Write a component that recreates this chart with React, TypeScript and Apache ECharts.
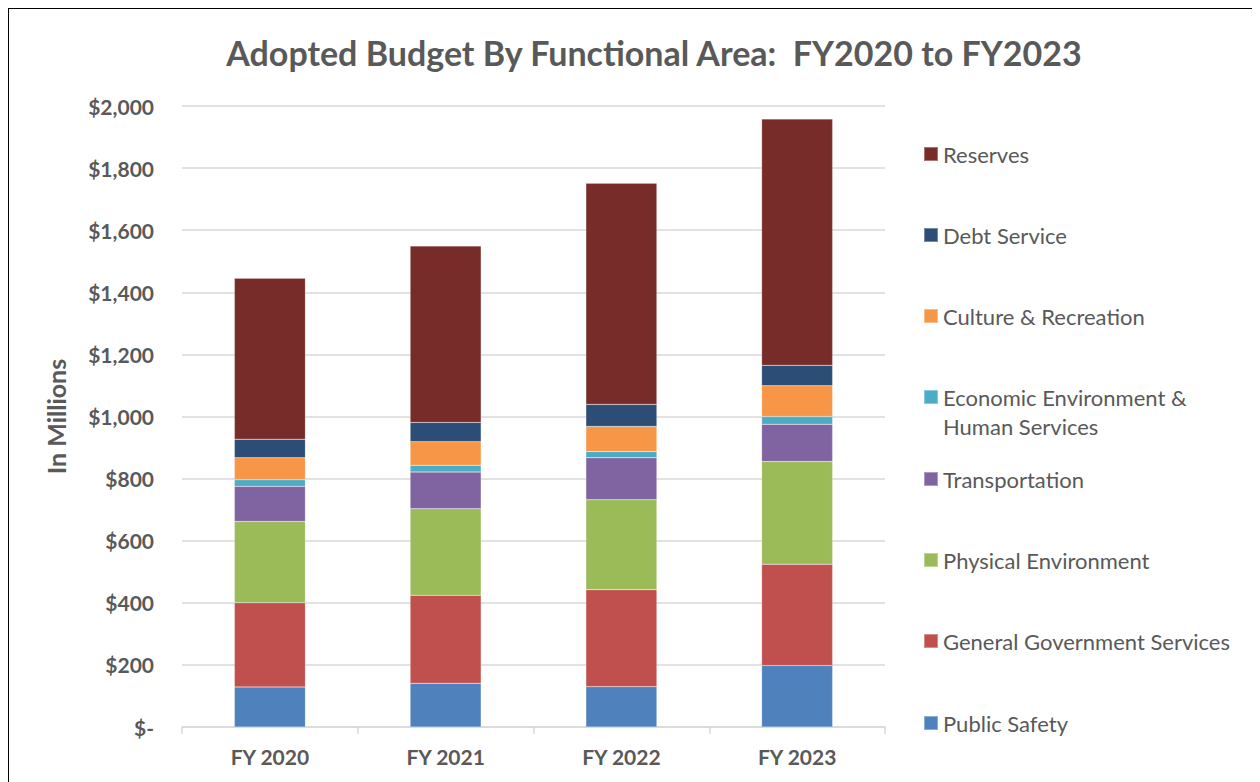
import React, { useEffect, useRef } from "react";
import * as echarts from "echarts";

const categories = ["FY 2020", "FY 2021", "FY 2022", "FY 2023"];
const publicSafety = [129, 141, 130, 198];
const generalGov = [271, 283, 312, 326];
const physicalEnv = [262, 279, 290, 331];
const transportation = [113, 118, 135, 120];
const economicEnv = [21, 22, 20, 25];
const cultureRec = [71, 76, 81, 99];
const debtService = [60, 62, 71, 66];
const reserves = [518, 568, 712, 793];
const yTicks = [0, 200, 400, 600, 800, 1000, 1200, 1400, 1600, 1800, 2000];

const seriesNames = [
  "Public Safety",
  "General Government Services",
  "Physical Environment",
  "Transportation",
  "Economic Environment & Human Services",
  "Culture & Recreation",
  "Debt Service",
  "Reserves",
];
const seriesData = [publicSafety, generalGov, physicalEnv, transportation, economicEnv, cultureRec, debtService, reserves];
const colors = ["#4F81BD", "#C0504D", "#9BBB59", "#8064A2", "#4BACC6", "#F79646", "#2C4D75", "#772C2A"];

const FONT = "Lato";
const GREY = "#595959";

export default function App() {
  const ref = useRef<HTMLDivElement>(null);
  useEffect(() => {
    if (!ref.current) return;
    const chart = echarts.init(ref.current, undefined, { renderer: "svg" });
    // legend centers (chart coords) top to bottom: Reserves ... Public Safety
    const legendCenters = [146, 227, 308, 389, 471, 552, 633, 715];
    const legendOrder = [...seriesNames].reverse();
    const legends = legendOrder.map((name, i) => {
      const isEcon = name.startsWith("Economic");
      return {
        data: [name],
        orient: "vertical",
        left: 915,
        top: isEcon ? legendCenters[i] - 43.5 : legendCenters[i] - 12,
        padding: 0,
        itemWidth: 14,
        itemHeight: 14,
        itemGap: 0,
        icon: "rect",
        selectedMode: false,
        formatter: (n: string) =>
          n.startsWith("Economic") ? "{pad| }\n{a|Economic Environment &}\n{a|Human Services}" : n,
        textStyle: isEcon
          ? {
              fontFamily: FONT,
              fontSize: 22,
              color: GREY,
              lineHeight: 29,
              rich: {
                pad: { fontFamily: FONT, fontSize: 22, lineHeight: 29, color: GREY },
                a: { fontFamily: FONT, fontSize: 22, lineHeight: 29, color: GREY },
              },
            }
          : { fontFamily: FONT, fontSize: 22, color: GREY, lineHeight: 24 },
      };
    });
    chart.setOption({
      animation: false,
      backgroundColor: "#ffffff",
      title: {
        text: "Adopted Budget By Functional Area:  FY2020 to FY2023",
        left: 641,
        textAlign: "center",
        top: 22,
        textStyle: { fontFamily: FONT, fontSize: 34, fontWeight: "bold", color: GREY },
      },
      legend: legends,
      grid: { left: 174, top: 98, width: 703, height: 621, containLabel: false },
      xAxis: {
        type: "category",
        data: categories,
        axisLine: { show: true, lineStyle: { color: "#d9d9d9", width: 1.5 } },
        axisTick: { show: true, length: 7, lineStyle: { color: "#d9d9d9", width: 1.5 } },
        axisLabel: { margin: 19, fontFamily: FONT, fontSize: 21, fontWeight: "bold", color: GREY },
      },
      yAxis: {
        type: "value",
        min: yTicks[0],
        max: yTicks[yTicks.length - 1],
        interval: 200,
        name: "In Millions",
        nameLocation: "middle",
        nameGap: 114,
        nameTextStyle: { fontFamily: FONT, fontSize: 25, fontWeight: "bold", color: GREY },
        axisLine: { show: false },
        axisTick: { show: false },
        splitLine: { lineStyle: { color: "#d9d9d9", width: 1.5 } },
        axisLabel: {
          margin: 28,
          fontFamily: FONT,
          fontSize: 21,
          fontWeight: "bold",
          color: GREY,
          formatter: (v: number) => (v === 0 ? "$-" : "$" + v.toLocaleString("en-US")),
        },
      },
      series: seriesNames.map((name, i) => ({
        name,
        type: "bar",
        stack: "total",
        barWidth: 71,
        data: seriesData[i],
        itemStyle: { color: colors[i], borderColor: "rgba(255,255,255,0.35)", borderWidth: 0.5 },
      })),
    });
    return () => chart.dispose();
  }, []);
  return (
    <div style={{ position: "relative", width: 1252, height: 774 }}>
      <div ref={ref} style={{ width: 1252, height: 774 }} />
      <div
        style={{
          position: "absolute",
          left: -1,
          top: -1,
          width: 1262,
          height: 800,
          borderLeft: "2px solid #000",
          borderTop: "2px solid #000",
          pointerEvents: "none",
        }}
      />
    </div>
  );
}
